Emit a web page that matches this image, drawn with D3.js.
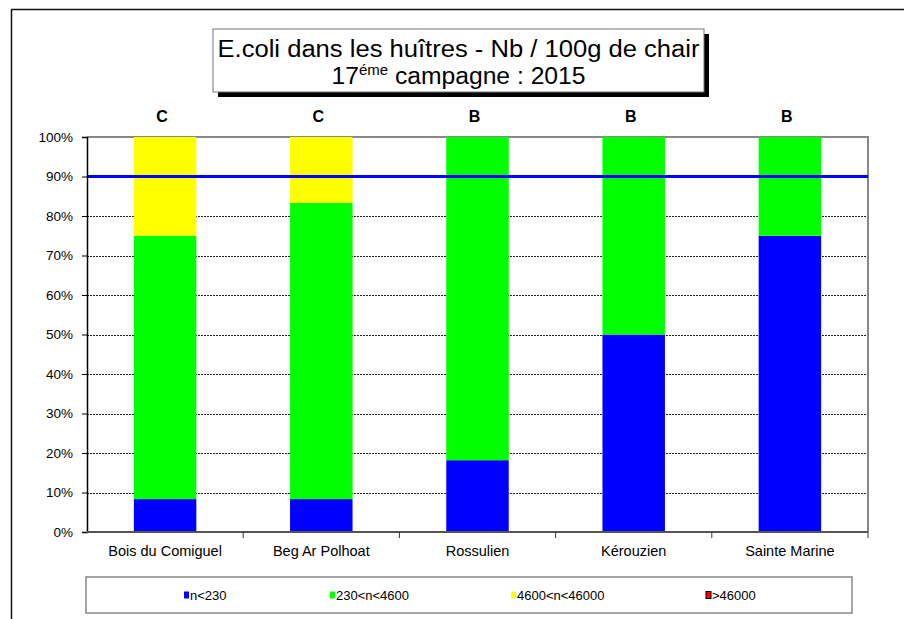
<!DOCTYPE html>
<html>
<head>
<meta charset="utf-8">
<script src="https://cdn.jsdelivr.net/npm/d3@7"></script>
<style>
  html, body { margin: 0; padding: 0; background: #fff; }
  svg { display: block; font-family: "Liberation Sans", Arial, sans-serif; }
</style>
</head>
<body>
<svg id="chart" width="904" height="619"></svg>
<script>
// Sites sampled and their sanitary class
const sites = ["Bois du Comiguel", "Beg Ar Polhoat", "Rossulien", "Kérouzien", "Sainte Marine"];
const classes = ["C", "C", "B", "B", "B"];

// Share of results (%) per E.coli range
const below230 = [8.33, 8.33, 18.18, 50, 75];
const from230to4600 = [66.67, 75, 81.82, 50, 25];
const from4600to46000 = [25, 16.67, 0, 0, 0];
const above46000 = [0, 0, 0, 0, 0];

const seriesNames = ["n<230", "230<n<4600", "4600<n<46000", ">46000"];
const seriesColors = ["#0000ff", "#00ff00", "#ffff00", "#ff0000"];
const yTicks = [0, 10, 20, 30, 40, 50, 60, 70, 80, 90, 100];
const threshold = 90;

const svg = d3.select("#chart");

// Outer frame
svg.append("path")
  .attr("d", "M11.5,619 V9.5 H904")
  .attr("fill", "none").attr("stroke", "#111").attr("stroke-width", 1.5);

// Title box with drop shadow
const tb = { x: 213, y: 29, w: 491, h: 63 };
svg.append("rect").attr("x", tb.x + 5).attr("y", tb.y + 5).attr("width", tb.w).attr("height", tb.h).attr("fill", "#000");
svg.append("rect").attr("x", tb.x).attr("y", tb.y).attr("width", tb.w).attr("height", tb.h)
  .attr("fill", "#fff").attr("stroke", "#777").attr("stroke-width", 1);
svg.append("text").attr("x", tb.x + tb.w / 2).attr("y", 57).attr("text-anchor", "middle")
  .attr("font-size", 23).attr("textLength", 482).attr("lengthAdjust", "spacingAndGlyphs")
  .text("E.coli dans les huîtres - Nb / 100g de chair");
const t2 = svg.append("text").attr("x", tb.x + tb.w / 2).attr("y", 84).attr("text-anchor", "middle")
  .attr("font-size", 23).attr("textLength", 254).attr("lengthAdjust", "spacingAndGlyphs");
t2.append("tspan").text("17");
t2.append("tspan").attr("font-size", 14).attr("dy", -9).text("éme");
t2.append("tspan").attr("dy", 9).text(" campagne : 2015");

// Plot area
const m = { left: 87, right: 868, top: 137, bottom: 532 };
const x = d3.scaleBand().domain(sites).range([m.left, m.right]).paddingInner(0.6).paddingOuter(0.3);
const xb = d3.scaleBand().domain(sites).range([m.left, m.right]);
const y = d3.scaleLinear().domain([0, 100]).range([m.bottom, m.top]);

// Dashed gridlines
svg.append("g").selectAll("line").data(yTicks.filter(t => t > 0 && t < 100)).join("line")
  .attr("x1", m.left).attr("x2", m.right)
  .attr("y1", d => Math.round(y(d)) + 0.5).attr("y2", d => Math.round(y(d)) + 0.5)
  .attr("stroke", "#222").attr("stroke-width", 1).attr("stroke-dasharray", "2,1");

// Top and right plot borders
svg.append("path")
  .attr("d", `M${m.left},${m.top} H${m.right} V${m.bottom}`)
  .attr("fill", "none").attr("stroke", "#888").attr("stroke-width", 2);

// Stacked bars
const rows = sites.map((s, i) => ({
  site: s, "n<230": below230[i], "230<n<4600": from230to4600[i],
  "4600<n<46000": from4600to46000[i], ">46000": above46000[i]
}));
const stacked = d3.stack().keys(seriesNames)(rows);
svg.append("g").selectAll("g").data(stacked).join("g")
  .attr("fill", (d, i) => seriesColors[i])
  .selectAll("rect").data(d => d).join("rect")
  .attr("x", d => x(d.data.site))
  .attr("width", x.bandwidth())
  .attr("y", d => y(d[1]))
  .attr("height", d => y(d[0]) - y(d[1]));

// 90% threshold line
svg.append("line")
  .attr("x1", m.left).attr("x2", m.right)
  .attr("y1", y(threshold)).attr("y2", y(threshold))
  .attr("stroke", "#0000ff").attr("stroke-width", 3);

// Y axis
const yAxis = svg.append("g").attr("transform", `translate(${m.left},0)`)
  .call(d3.axisLeft(y).tickValues(yTicks).tickFormat(d => d + "%").tickSize(5).tickPadding(9));
yAxis.select(".domain").attr("stroke", "#000").attr("stroke-width", 1.5);
yAxis.selectAll(".tick line").attr("stroke", "#000");
yAxis.selectAll("text").attr("font-size", 13.5).attr("fill", "#000").attr("font-family", "Liberation Sans, Arial, sans-serif");

// X axis with ticks at category boundaries
const xAxisG = svg.append("g").attr("transform", `translate(0,${m.bottom})`);
xAxisG.append("line").attr("x1", m.left).attr("x2", m.right).attr("stroke", "#555").attr("stroke-width", 2);
xAxisG.selectAll("line.tk").data(sites.slice(1).concat(["__end"])).join("line").attr("class", "tk")
  .attr("x1", d => d === "__end" ? m.right : xb(d)).attr("x2", d => d === "__end" ? m.right : xb(d))
  .attr("y1", 0).attr("y2", 6).attr("stroke", "#333");
xAxisG.selectAll("text").data(sites).join("text")
  .attr("x", d => xb(d) + xb.bandwidth() / 2).attr("y", 24)
  .attr("text-anchor", "middle").attr("font-size", 14.5).text(d => d);

// Sanitary class above each bar
svg.append("g").selectAll("text").data(sites).join("text")
  .attr("x", d => xb(d) + xb.bandwidth() / 2 - 3).attr("y", 122)
  .attr("text-anchor", "middle").attr("font-size", 16).attr("font-weight", "bold")
  .text((d, i) => classes[i]);

// Legend
const lg = { x: 86, y: 577, w: 766, h: 36 };
svg.append("rect").attr("x", lg.x).attr("y", lg.y).attr("width", lg.w).attr("height", lg.h)
  .attr("fill", "#fff").attr("stroke", "#888").attr("stroke-width", 1.5);
const legendX = [184, 330, 511, 706];
const li = svg.append("g").selectAll("g").data(seriesNames).join("g")
  .attr("transform", (d, i) => `translate(${legendX[i]},${lg.y + lg.h / 2})`);
li.append("rect").attr("x", 0).attr("y", -3.5).attr("width", 5).attr("height", 7)
  .attr("fill", (d, i) => seriesColors[i])
  .attr("stroke", (d, i) => i === 3 ? "#000" : "none").attr("stroke-width", 1);
li.append("text").attr("x", 6).attr("y", 5).attr("font-size", 13)
  .text(d => d);
</script>
</body>
</html>
